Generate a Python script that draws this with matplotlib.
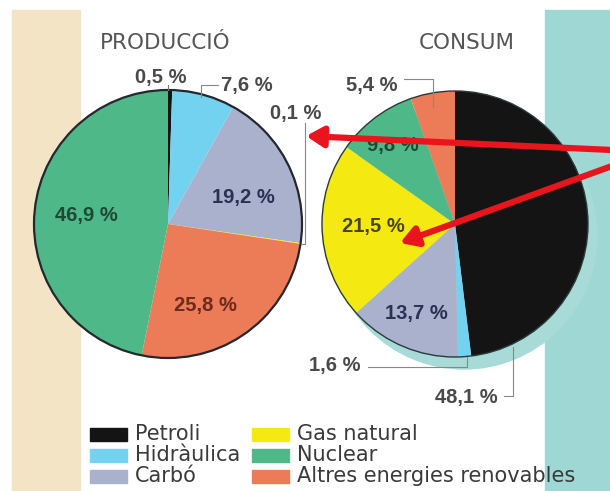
import matplotlib
matplotlib.use("Agg")
import matplotlib.pyplot as plt
from matplotlib.patches import Rectangle, Circle

# energy sources and their legend colours
fonts = ["Petroli", "Hidràulica", "Carbó", "Gas natural", "Nuclear",
         "Altres energies renovables"]
colors = {"Petroli": "#141414", "Hidràulica": "#72d2ef", "Carbó": "#a9b1cd",
          "Gas natural": "#f4ea12", "Nuclear": "#4fb888",
          "Altres energies renovables": "#ec7b57"}

# production pie (clockwise from the top)
prod_fonts = ["Petroli", "Hidràulica", "Carbó", "Gas natural",
              "Altres energies renovables", "Nuclear"]
prod_pct = [0.5, 7.6, 19.2, 0.1, 25.8, 46.9]

# consumption pie (clockwise from the top)
cons_fonts = ["Petroli", "Hidràulica", "Carbó", "Gas natural", "Nuclear",
              "Altres energies renovables"]
cons_pct = [48.1, 1.6, 13.7, 21.5, 9.8, 5.4]

W, H = 610, 491


def Y(y):
    # picture rows run downwards, the axes upwards
    return H - y


def pct(v):
    return ("%.1f %%" % v).replace(".", ",")


fig = plt.figure(figsize=(6.10, 4.91), dpi=100)
ax = fig.add_axes([0, 0, 1, 1])

# page background strips
ax.add_patch(Rectangle((12, 0), 68, Y(10), color="#f3e4c6", zorder=0))
ax.add_patch(Rectangle((545, 0), 65, Y(10), color="#9fd7d4", zorder=0))

# shadow behind the consumption pie
ax.add_patch(Circle((464, Y(236)), 133, color="#a8dbd7", zorder=1))

pc = (168, Y(224))
cc = (455, Y(224))
r = 134

w1, _ = ax.pie(prod_pct, colors=[colors[f] for f in prod_fonts], startangle=90,
               counterclock=False, center=pc, radius=r,
               wedgeprops=dict(linewidth=0))
w2, _ = ax.pie(cons_pct, colors=[colors[f] for f in cons_fonts], startangle=90,
               counterclock=False, center=cc, radius=r - 1,
               wedgeprops=dict(linewidth=0))
for w in w1 + w2:
    w.set_zorder(2)
ax.add_patch(Circle(pc, r, fill=False, ec="#23282e", lw=1.6, zorder=3))
ax.add_patch(Circle(cc, r - 1, fill=False, ec="#2a3a3a", lw=1.0, zorder=3))

# titles
tfont = dict(family="DejaVu Sans", fontsize=15.5, color="#555555",
             ha="center", va="center")
ax.text(165, Y(43), "PRODUCCIÓ", **tfont)
ax.text(467, Y(43), "CONSUM", **tfont)

lab = dict(family="Liberation Sans", fontsize=14.5, fontweight="bold",
           ha="center", va="center", zorder=5)
out_col = "#4a4a4a"

# production labels
ax.text(161, Y(77), pct(prod_pct[0]), color=out_col, **lab)
ax.plot([168, 168], [Y(85), Y(90)], color="#777777", lw=0.8, zorder=4)
ax.text(247, Y(85), pct(prod_pct[1]), color=out_col, **lab)
ax.plot([218, 201, 201], [Y(85), Y(85), Y(97)], color="#888888", lw=0.8, zorder=4)
ax.text(296, Y(113), pct(prod_pct[3]), color=out_col, **lab)
ax.plot([305, 305, 301], [Y(123), Y(244), Y(244)], color="#888888", lw=0.8, zorder=4)
ax.text(243, Y(197), pct(prod_pct[2]), color="#2b3152", **lab)
ax.text(205, Y(305), pct(prod_pct[4]), color="#6e2a1c", **lab)
ax.text(86, Y(215), pct(prod_pct[5]), color="#1d4a35", **lab)

# consumption labels
ax.text(372, Y(85), pct(cons_pct[5]), color=out_col, **lab)
ax.plot([404, 433, 433], [Y(79), Y(79), Y(107)], color="#888888", lw=0.8, zorder=4)
ax.text(393, Y(145), pct(cons_pct[4]), color="#1d4a35", **lab)
ax.text(373, Y(226), pct(cons_pct[3]), color="#4a4612", **lab)
ax.text(416, Y(314), pct(cons_pct[2]), color="#2b3152", **lab)
ax.text(335, Y(366), pct(cons_pct[1]), color=out_col, **lab)
ax.plot([368, 467, 467], [Y(367), Y(367), Y(357)], color="#888888", lw=0.8, zorder=4)
ax.text(466, Y(397), pct(cons_pct[0]), color=out_col, **lab)
ax.plot([504, 513, 513], [Y(396), Y(396), Y(347)], color="#888888", lw=0.8, zorder=4)

# red arrows drawn over the page
arr = dict(arrowstyle="-|>,head_length=1.0,head_width=0.6", color="#e8161c",
           lw=4.5, shrinkA=0, shrinkB=0)
ax.annotate("", xy=(306, Y(136)), xytext=(612, Y(150)), arrowprops=arr, zorder=6)
ax.annotate("", xy=(400, Y(243)), xytext=(612, Y(166)), arrowprops=arr, zorder=6)

# legend
rows = [434, 455, 476]
for i, f in enumerate(fonts):
    col, row = divmod(i, 3)
    x0 = 90 if col == 0 else 252
    ax.add_patch(Rectangle((x0, Y(rows[row]) - 6.5), 37, 13,
                           color=colors[f], zorder=4))
    ax.text(x0 + 45, Y(rows[row]), f, family="DejaVu Sans", fontsize=15,
            color="#3a3a3a", ha="left", va="center", zorder=5)

ax.set_xlim(0, W)
ax.set_ylim(0, H)
ax.set_aspect("equal")
ax.axis("off")

fig.savefig("out.png", dpi=100)
